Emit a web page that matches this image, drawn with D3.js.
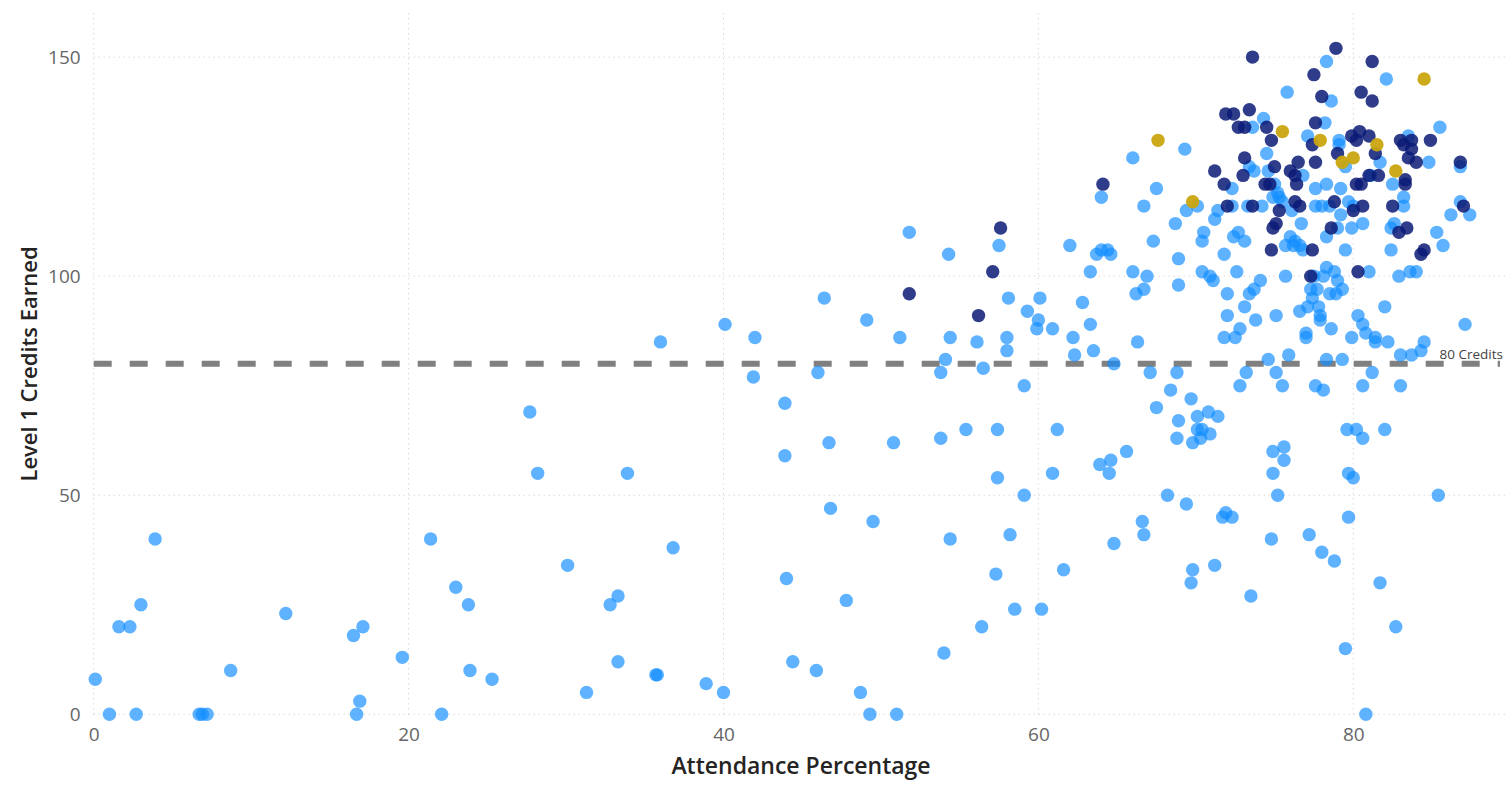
<!DOCTYPE html>
<html>
<head>
<meta charset="utf-8">
<script src="https://cdn.jsdelivr.net/npm/d3@7"></script>
<style>
    body { margin: 0; background: #fff; }
    svg { display: block; }
</style>
</head>
<body>
<div id="chartContainer"></div>
<script>
// Attendance % and Level 1 credits, one pair of arrays per colour group
const achievedX = [0.1, 1.0, 1.6, 2.3, 2.7, 3.0, 3.9, 6.7, 6.9, 7.2, 8.7, 12.2, 16.5, 17.1, 16.7, 16.9, 19.6, 21.4, 22.1, 23.0, 23.8, 23.9, 25.3,
    27.7, 28.2, 30.1, 31.3, 32.8, 33.3, 33.3, 33.9, 35.7, 35.8, 36.0, 36.8, 38.9, 40.1, 40.0, 42.0, 41.9, 43.9, 43.9, 44.0, 44.4, 45.9,
    46.8, 49.5, 47.8, 48.7, 49.3, 51.0, 46.4, 46.7, 46.0, 49.1, 50.8, 51.2, 51.8, 54.3, 54.4, 54.1, 53.8, 53.8, 55.4, 54.4, 54.0, 56.4,
    57.3, 56.1, 56.5, 57.5, 57.4, 57.4,
    58.5, 60.2, 61.6, 69.8, 69.7, 71.2, 73.5, 78.0, 78.8, 81.7, 82.7, 79.5, 80.8,
    59.3, 60.0, 59.9, 60.9, 58.0, 58.0, 59.1, 62.2, 62.3, 63.3, 63.5, 64.8, 66.3, 67.1, 68.8, 68.4, 69.7, 67.5, 68.9, 70.1, 70.8, 71.4,
    70.1, 70.4, 70.9, 70.3, 69.8, 68.8, 61.2, 65.6, 64.6, 63.9, 64.5, 60.9, 59.1, 58.2, 64.8, 66.6, 66.7, 68.2, 69.4, 71.7, 71.9, 72.3,
    72.0, 73.1, 72.8, 71.8, 72.5, 73.8, 75.1, 73.2, 72.8, 74.6, 75.1, 75.5, 75.9, 76.6, 77.1, 77.4, 77.8, 77.9, 77.9, 77.0, 77.0, 78.6,
    78.3, 79.3, 77.6, 78.1, 79.9, 80.3, 80.6, 80.8, 81.4, 81.4, 82.0, 82.2, 81.2, 80.6, 83.0, 83.0, 83.7, 84.3, 84.5, 87.1, 79.6, 80.2,
    80.6, 82.0, 74.9, 75.6, 75.6, 74.9, 75.2, 79.7, 80.0, 85.4, 79.7, 74.8, 77.2,
    58.1, 60.1, 62.8, 62.0, 63.7, 64.0, 64.4, 64.6, 67.3, 63.3, 66.0, 66.9, 68.9, 66.7, 66.2, 70.4, 70.9, 71.1, 72.6, 74.1, 73.7, 73.4,
    72.0, 75.7, 68.7, 68.9, 70.5, 70.4, 72.7, 72.4, 73.1, 71.8, 76.0, 76.3, 76.6, 76.2, 76.8, 75.7, 76.7, 78.3, 79.0, 79.9, 80.6, 79.5,
    78.3, 78.1, 78.8, 79.0, 77.3, 77.7, 78.5, 78.9, 79.3, 77.5, 81.0, 82.9, 83.6, 84.0, 82.4, 85.3, 85.7, 82.6, 82.4, 86.2, 87.4, 86.8,
    86.8, 84.8, 85.5, 83.5, 83.2, 83.2, 82.5, 81.7, 81.1, 79.2, 78.3, 77.6, 79.5, 79.1, 79.1, 78.2, 77.1, 74.3, 73.6, 75.8, 78.3, 78.6,
    82.1, 74.5, 73.4, 73.7, 74.6, 76.8, 75.0, 75.2, 75.3, 75.5, 74.9, 72.3, 72.3, 73.3, 74.2, 71.4, 71.2, 69.3, 66.0, 67.5, 66.7, 64.0,
    69.4, 70.1, 77.6, 78.0, 78.5, 79.2, 80.0, 79.7, 76.1];
const achievedY = [8, 0, 20, 20, 0, 25, 40, 0, 0, 0, 10, 23, 18, 20, 0, 3, 13, 40, 0, 29, 25, 10, 8,
    69, 55, 34, 5, 25, 27, 12, 55, 9, 9, 85, 38, 7, 89, 5, 86, 77, 71, 59, 31, 12, 10,
    47, 44, 26, 5, 0, 0, 95, 62, 78, 90, 62, 86, 110, 105, 86, 81, 78, 63, 65, 40, 14, 20,
    32, 85, 79, 107, 65, 54,
    24, 24, 33, 33, 30, 34, 27, 37, 35, 30, 20, 15, 0,
    92, 90, 88, 88, 86, 83, 75, 86, 82, 89, 83, 80, 85, 78, 78, 74, 72, 70, 67, 68, 69, 68,
    65, 65, 64, 63, 62, 63, 65, 60, 58, 57, 55, 55, 50, 41, 39, 44, 41, 50, 48, 45, 46, 45,
    91, 93, 88, 86, 86, 90, 91, 78, 75, 81, 78, 75, 82, 92, 93, 95, 93, 91, 90, 87, 86, 88,
    81, 81, 75, 74, 86, 91, 89, 87, 86, 85, 93, 85, 78, 75, 75, 82, 82, 83, 85, 89, 65, 65,
    63, 65, 60, 61, 58, 55, 50, 55, 54, 50, 45, 40, 41,
    95, 95, 94, 107, 105, 106, 106, 105, 108, 101, 101, 100, 98, 97, 96, 101, 100, 99, 101, 99, 97, 96,
    96, 100, 112, 104, 110, 108, 110, 109, 108, 105, 109, 108, 107, 107, 106, 107, 112, 109, 111, 111, 112, 106,
    102, 100, 101, 99, 97, 97, 96, 96, 97, 100, 101, 100, 101, 101, 106, 110, 107, 112, 111, 114, 114, 117,
    125, 126, 134, 132, 118, 116, 121, 126, 123, 120, 121, 120, 125, 131, 130, 135, 132, 136, 134, 142, 149, 140,
    145, 128, 125, 124, 124, 123, 121, 119, 118, 117, 118, 120, 116, 116, 116, 115, 113, 129, 127, 120, 116, 118,
    115, 116, 116, 116, 116, 114, 116, 117, 115];

const meritX = [51.8, 56.2, 57.1, 57.6, 64.1, 73.6, 78.9, 81.2, 77.5, 78.0, 80.5, 81.2, 71.9, 72.4, 73.4, 72.7, 73.1, 74.5, 74.8,
    77.6, 77.4, 79.0, 79.9, 80.4, 80.2, 81.0, 81.4, 83.0, 83.7, 83.2, 83.7, 83.5, 84.0, 84.9, 86.8, 87.0, 73.1, 71.2, 73.0, 75.0,
    71.8, 74.4, 74.7, 76.5, 77.6, 76.0, 76.3, 76.4, 80.2, 80.5, 81.0, 81.6, 83.3, 83.3, 82.5, 80.6, 80.0, 78.8, 76.6, 76.3, 75.3,
    73.6, 72.0, 75.1, 74.9, 78.6, 83.4, 82.9, 84.5, 84.3, 77.4, 74.8, 80.3, 77.3];
const meritY = [96, 91, 101, 111, 121, 150, 152, 149, 146, 141, 142, 140, 137, 137, 138, 134, 134, 134, 131,
    135, 130, 128, 132, 133, 131, 132, 128, 131, 131, 130, 129, 127, 126, 131, 126, 116, 127, 124, 123, 125,
    121, 121, 121, 126, 126, 124, 123, 121, 121, 121, 123, 123, 122, 121, 116, 116, 115, 117, 116, 117, 115,
    116, 116, 112, 111, 111, 111, 110, 106, 105, 106, 106, 101, 100];

const excellenceX = [67.6, 69.8, 75.5, 77.9, 79.3, 80.0, 81.5, 82.7, 84.5];
const excellenceY = [131, 117, 133, 131, 126, 127, 130, 124, 145];

const xTicks = [0, 20, 40, 60, 80];
const yTicks = [0, 50, 100, 150];
const targetCredits = 80;
const targetLabel = "80 Credits";

const svgWidth = 1511;
const svgHeight = 786;
const margin = { top: 13.3, right: 5, bottom: 71.7, left: 93.7 };

const svg = d3.select("#chartContainer")
    .append("svg")
    .attr("width", svgWidth)
    .attr("height", svgHeight);

const xScale = d3.scaleLinear()
    .domain([0, 89.7])
    .range([margin.left, svgWidth - margin.right]);

const yScale = d3.scaleLinear()
    .domain([0, 160])
    .range([svgHeight - margin.bottom, margin.top]);

const tickFont = "'Open Sans', 'Noto Sans', sans-serif";

// dotted grid
svg.append("g")
    .selectAll("line")
    .data(xTicks)
    .enter()
    .append("line")
    .attr("x1", d => xScale(d))
    .attr("x2", d => xScale(d))
    .attr("y1", yScale.range()[0])
    .attr("y2", yScale.range()[1])
    .attr("stroke", "#c8c8c8")
    .attr("stroke-dasharray", "1,4");

svg.append("g")
    .selectAll("line")
    .data(yTicks)
    .enter()
    .append("line")
    .attr("x1", xScale.range()[0])
    .attr("x2", xScale.range()[1])
    .attr("y1", d => yScale(d))
    .attr("y2", d => yScale(d))
    .attr("stroke", "#c8c8c8")
    .attr("stroke-dasharray", "1,4");

// axes: labels only
const xAxis = svg.append("g")
    .attr("transform", `translate(0, ${yScale(0)})`)
    .call(d3.axisBottom(xScale).tickValues(xTicks).tickSize(0).tickPadding(13));
const yAxis = svg.append("g")
    .attr("transform", `translate(${xScale(0)}, 0)`)
    .call(d3.axisLeft(yScale).tickValues(yTicks).tickSize(0).tickPadding(13));

[xAxis, yAxis].forEach(ax => {
    ax.select(".domain").remove();
    ax.selectAll("text")
        .attr("fill", "#666")
        .style("font-family", tickFont)
        .style("font-size", "19px");
});

// target line
svg.append("line")
    .attr("x1", xScale.range()[0])
    .attr("x2", xScale.range()[1] - 6)
    .attr("y1", yScale(targetCredits))
    .attr("y2", yScale(targetCredits))
    .attr("stroke", "#808080")
    .attr("stroke-width", 6)
    .attr("stroke-dasharray", "18,18");

// points
const groups = [
    { xs: achievedX, ys: achievedY, color: "#118DFF", opacity: 0.68 },
    { xs: meritX, ys: meritY, color: "#0a1a75", opacity: 0.85 },
    { xs: excellenceX, ys: excellenceY, color: "#c9a50f", opacity: 0.95 }
];

groups.forEach(g => {
    svg.append("g")
        .selectAll("circle")
        .data(g.xs.map((x, i) => ({ x: x, y: g.ys[i] })))
        .enter()
        .append("circle")
        .attr("cx", d => xScale(d.x))
        .attr("cy", d => yScale(d.y))
        .attr("r", 6.7)
        .attr("fill", g.color)
        .attr("fill-opacity", g.opacity);
});

svg.append("text")
    .attr("x", xScale.range()[1] - 3)
    .attr("y", yScale(targetCredits) - 5)
    .attr("text-anchor", "end")
    .attr("fill", "#444")
    .style("font-family", tickFont)
    .style("font-size", "13.5px")
    .text(targetLabel);

// axis titles
svg.append("text")
    .attr("x", 801)
    .attr("y", 774)
    .attr("text-anchor", "middle")
    .attr("fill", "#252423")
    .style("font-family", tickFont)
    .style("font-weight", 600)
    .style("font-size", "23px")
    .text("Attendance Percentage");

svg.append("text")
    .attr("transform", "translate(37, 364) rotate(-90)")
    .attr("text-anchor", "middle")
    .attr("fill", "#252423")
    .style("font-family", tickFont)
    .style("font-weight", 600)
    .style("font-size", "22px")
    .text("Level 1 Credits Earned");
</script>
</body>
</html>
